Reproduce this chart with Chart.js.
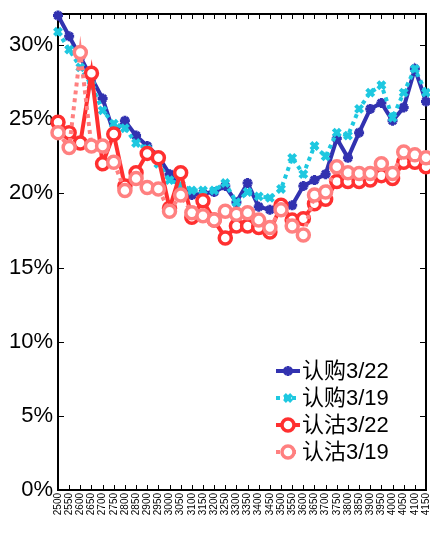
<!DOCTYPE html>
<html>
<head>
<meta charset="utf-8">
<script src="https://cdn.jsdelivr.net/npm/chart.js@4.4.1/dist/chart.umd.min.js"></script>
<style>
body { margin: 0; background: #fff; overflow: hidden; }
</style>
</head>
<body>
<canvas id="chart" width="441" height="533"></canvas>
<script>
// strike prices (x axis)
var strikes = ['2500','2550','2600','2650','2700','2750','2800','2850','2900','2950',
  '3000','3050','3100','3150','3200','3250','3300','3350','3400','3450',
  '3500','3550','3600','3650','3700','3750','3800','3850','3900','3950',
  '4000','4050','4100','4150'];

// implied vol, percent
var call0322 = [32.0,30.6,29.2,27.8,26.4,24.1,24.9,23.9,23.2,22.5,
  21.3,20.4,19.9,20.0,20.1,20.5,19.4,20.7,19.1,18.9,
  19.3,19.2,20.5,20.9,21.3,23.7,22.4,24.1,25.7,26.1,
  24.9,25.8,28.4,26.2];
var call0319 = [30.9,29.7,28.5,27.3,25.6,24.7,24.4,23.4,23.0,22.0,
  20.9,20.6,20.2,20.2,20.2,20.7,19.4,20.1,19.8,19.7,
  20.3,22.4,21.3,23.2,22.5,24.1,23.9,25.7,26.8,27.3,
  25.1,26.8,28.4,26.8];
var put0322 = [24.8,24.1,23.4,28.1,22.0,24.0,20.5,21.4,22.7,22.4,
  19.0,21.4,18.4,19.5,18.2,17.0,17.8,17.8,17.7,17.4,
  19.2,18.2,18.3,19.3,19.6,20.8,20.8,20.8,20.9,21.2,
  21.0,22.1,22.1,21.8];
var put0319 = [24.1,23.1,29.5,23.2,23.2,22.1,20.2,21.0,20.4,20.3,
  18.8,19.9,18.7,18.5,18.2,18.8,18.6,18.7,18.2,17.7,
  18.9,17.8,17.2,19.9,20.1,21.8,21.4,21.35,21.35,22.0,
  21.35,22.8,22.6,22.4];

var seriesNames = ['认购3/22', '认购3/19', '认沽3/22', '认沽3/19'];
var yTicks = [0, 5, 10, 15, 20, 25, 30];
var yMax = 32.1;

var fontFam = '"Liberation Sans", Arial, "Noto Sans CJK SC", sans-serif';

function drawMarker(ctx, style, x, y, r, stroke, lw, fill) {
  ctx.save();
  ctx.setLineDash([]);
  ctx.strokeStyle = stroke;
  ctx.lineWidth = lw;
  ctx.beginPath();
  if (style === 'circle') {
    ctx.arc(x, y, r, 0, Math.PI * 2);
    ctx.fillStyle = fill;
    ctx.fill();
    ctx.stroke();
  } else {
    var angles = style === 'star' ? [0, 45, 90, 135] : [45, 135];
    angles.forEach(function (a) {
      var rad = a * Math.PI / 180;
      var dx = Math.cos(rad) * r, dy = Math.sin(rad) * r;
      ctx.moveTo(x - dx, y - dy);
      ctx.lineTo(x + dx, y + dy);
    });
    ctx.stroke();
  }
  ctx.restore();
}

// box around the plot with inward ticks, matlab style
var boxTicks = {
  id: 'boxTicks',
  beforeDatasetsDraw: function (chart) {
    var a = chart.chartArea, ctx = chart.ctx;
    var xs = chart.scales.x, ys = chart.scales.y;
    ctx.save();
    ctx.strokeStyle = '#000';
    ctx.lineWidth = 1;
    ctx.beginPath();
    for (var i = 0; i < xs.ticks.length; i++) {
      var x = Math.round(xs.getPixelForTick(i)) + 0.5;
      ctx.moveTo(x, a.top); ctx.lineTo(x, a.top + 5);
      ctx.moveTo(x, a.bottom); ctx.lineTo(x, a.bottom - 5);
    }
    ys.ticks.forEach(function (t) {
      var y = Math.round(ys.getPixelForValue(t.value)) + 0.5;
      ctx.moveTo(a.left, y); ctx.lineTo(a.left + 6, y);
      ctx.moveTo(a.right, y); ctx.lineTo(a.right - 6, y);
    });
    ctx.stroke();
    ctx.lineWidth = 2;
    ctx.strokeRect(a.left, a.top, a.right - a.left, a.bottom - a.top);
    ctx.restore();
  }
};

var legendBox = {
  id: 'legendBox',
  afterDraw: function (chart) {
    var a = chart.chartArea, ctx = chart.ctx;
    var x0 = a.right - 150, y0 = a.bottom - 119;
    chart.data.datasets.forEach(function (ds, i) {
      var y = y0 + i * 27;
      ctx.save();
      ctx.strokeStyle = ds.borderColor;
      ctx.lineWidth = ds.borderWidth;
      ctx.setLineDash(ds.borderDash || []);
      ctx.beginPath();
      ctx.moveTo(x0, y);
      ctx.lineTo(x0 + 24, y);
      ctx.stroke();
      ctx.restore();
      drawMarker(ctx, ds.pointStyle, x0 + 12, y, ds.pointRadius, ds.borderColor,
        ds.pointBorderWidth, ds.pointBackgroundColor);
      ctx.save();
      ctx.fillStyle = '#000';
      ctx.font = '22px ' + fontFam;
      ctx.textBaseline = 'middle';
      ctx.fillText(ds.label, x0 + 26, y + 1);
      ctx.restore();
    });
  }
};

var ctx = document.getElementById('chart').getContext('2d');
var myChart = new Chart(ctx, {
  type: 'line',
  data: {
    labels: strikes,
    datasets: [{
      label: seriesNames[0],
      data: call0322,
      borderColor: '#3232b0',
      borderWidth: 4,
      pointStyle: 'star',
      pointRadius: 5,
      pointBorderWidth: 3,
      pointBackgroundColor: '#3232b0',
      order: 4,
      clip: false
    }, {
      label: seriesNames[1],
      data: call0319,
      borderColor: '#1ec8e0',
      borderWidth: 4,
      borderDash: [4, 4],
      pointStyle: 'crossRot',
      pointRadius: 5,
      pointBorderWidth: 4,
      pointBackgroundColor: '#1ec8e0',
      order: 3,
      clip: false
    }, {
      label: seriesNames[2],
      data: put0322,
      borderColor: '#ff3030',
      borderWidth: 4,
      pointStyle: 'circle',
      pointRadius: 6,
      pointBorderWidth: 3.5,
      pointBackgroundColor: '#fff',
      order: 2,
      clip: false
    }, {
      label: seriesNames[3],
      data: put0319,
      borderColor: '#ff8080',
      borderWidth: 4,
      borderDash: [4, 4],
      pointStyle: 'circle',
      pointRadius: 6,
      pointBorderWidth: 3.5,
      pointBackgroundColor: '#fff',
      order: 1,
      clip: false
    }]
  },
  options: {
    responsive: false,
    animation: false,
    events: [],
    layout: { padding: { top: 14, right: 0, left: 0, bottom: 0 } },
    plugins: { legend: { display: false }, tooltip: { enabled: false } },
    elements: { line: { tension: 0 } },
    scales: {
      x: {
        offset: false,
        grid: { display: false, drawTicks: false },
        border: { display: false },
        afterFit: function (s) {
          s.height = 43;
        },
        ticks: {
          autoSkip: false,
          minRotation: 90,
          maxRotation: 90,
          padding: 3,
          color: '#000',
          font: { size: 10, family: fontFam }
        }
      },
      y: {
        min: 0,
        max: yMax,
        grid: { display: false, drawTicks: false },
        border: { display: false },
        afterFit: function (s) {
          s.width = 58;
          s.paddingTop = 0;
          s.paddingBottom = 0;
        },
        afterBuildTicks: function (s) {
          s.ticks = yTicks.map(function (v) { return { value: v }; });
        },
        ticks: {
          padding: 5,
          color: '#000',
          font: { size: 22, family: fontFam },
          callback: function (v) { return v + '%'; }
        }
      }
    }
  },
  plugins: [boxTicks, legendBox]
});
</script>
</body>
</html>
